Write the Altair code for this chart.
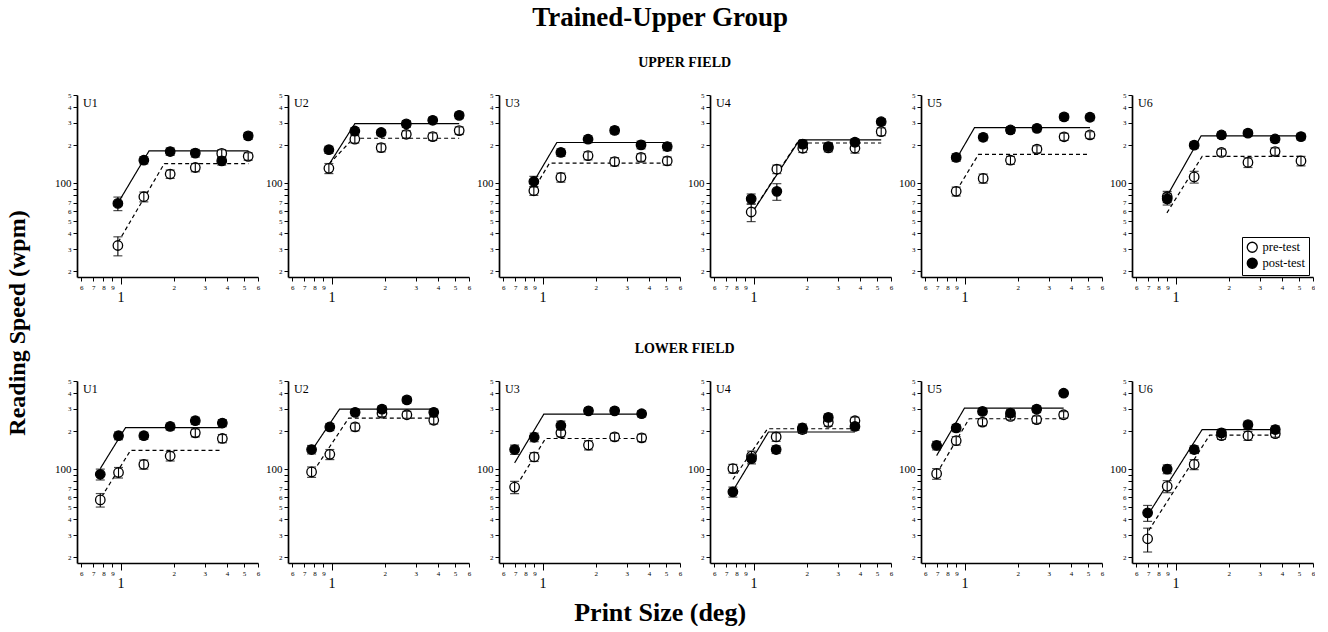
import altair as alt
import pandas as pd

FONT = "Liberation Serif"
PANELS = ["U1", "U2", "U3", "U4", "U5", "U6"]
TESTS = ["pre-test", "post-test"]

# ---------------- UPPER FIELD ----------------
UPPER_X = [
    [0.966, 1.355, 1.91, 2.65, 3.74, 5.28],
    [0.966, 1.355, 1.91, 2.65, 3.74, 5.28],
    [0.893, 1.27, 1.81, 2.56, 3.61, 5.08],
    [0.97, 1.355, 1.90, 2.65, 3.75, 5.28],
    [0.897, 1.275, 1.82, 2.57, 3.66, 5.13],
    [0.897, 1.275, 1.82, 2.57, 3.66, 5.13],
]
UPPER_PRE = [
    [32, 78, 118, 133, 172, 163],
    [131, 223, 191, 244, 234, 261],
    [87, 111, 165, 148, 160, 150],
    [59, 129, 189, 190, 189, 256],
    [86, 109, 152, 186, 233, 241],
    [78, 112, 175, 146, 178, 150],
]
UPPER_PRE_ERR = [
    [5.5, 7, 9, 10, 12, 11],
    [12, 15, 14, 16, 16, 18],
    [7, 9, 12, 11, 11, 11],
    [9.5, 10, 14, 13, 16, 18],
    [7, 9, 11, 12, 15, 15],
    [8, 12, 11, 13, 12, 13],
]
UPPER_POST = [
    [69, 152, 178, 173, 150, 237],
    [184, 259, 252, 295, 315, 345],
    [103, 175, 223, 262, 201, 195],
    [75, 86, 204, 195, 211, 307],
    [160, 231, 264, 272, 335, 333],
    [75, 200, 241, 249, 224, 234],
]
UPPER_POST_ERR = [
    [8.5, 10, 12, 12, 11, 15],
    [12, 16, 14, 18, 18, 20],
    [10, 12, 14, 16, 14, 14],
    [7, 13, 14, 12, 14, 18],
    [11, 14, 16, 16, 20, 20],
    [8, 12, 14, 14, 14, 14],
]
# fit: [start x, start y, knee x, plateau y, end x]
UPPER_PRE_FIT = [
    [0.97, 34, 1.77, 143, 5.3],
    [0.97, 142, 1.33, 227, 5.28],
    [0.92, 96, 1.095, 144, 5.08],
    [1.0, 61, 1.76, 208, 5.28],
    [0.9, 87, 1.2, 169, 5.13],
    [0.894, 58, 1.415, 163, 5.13],
]
UPPER_POST_FIT = [
    [0.97, 70, 1.45, 180, 5.3],
    [0.966, 140, 1.355, 296, 5.28],
    [0.893, 103, 1.205, 210, 5.08],
    [0.98, 58, 1.82, 220, 5.28],
    [0.9, 156, 1.14, 276, 5.13],
    [0.886, 77, 1.396, 237, 5.13],
]

# ---------------- LOWER FIELD ----------------
LOWER_X = [
    [0.768, 0.974, 1.355, 1.91, 2.65, 3.77],
    [0.771, 0.978, 1.36, 1.93, 2.67, 3.79],
    [0.695, 0.897, 1.27, 1.82, 2.56, 3.64],
    [0.764, 0.974, 1.343, 1.89, 2.65, 3.75],
    [0.695, 0.897, 1.264, 1.82, 2.56, 3.64],
    [0.695, 0.897, 1.275, 1.82, 2.57, 3.67],
]
LOWER_PRE = [
    [57, 94, 109, 127, 194, 175],
    [95, 131, 216, 278, 270, 244],
    [72, 125, 194, 155, 180, 177],
    [101, 127, 180, 206, 235, 242],
    [92, 168, 236, 262, 247, 270],
    [28, 73, 109, 184, 184, 191],
]
LOWER_PRE_ERR = [
    [7, 9, 9, 11, 14, 13],
    [9, 12, 15, 17, 17, 16],
    [8, 10, 14, 13, 12, 12],
    [8, 12, 14, 14, 16, 16],
    [9, 13, 15, 16, 16, 16],
    [6, 8, 10, 12, 15, 12],
]
LOWER_POST = [
    [91, 184, 184, 218, 242, 232],
    [143, 216, 282, 299, 354, 282],
    [143, 179, 222, 290, 290, 275],
    [66, 121, 143, 212, 257, 218],
    [154, 212, 287, 278, 299, 400],
    [45, 100, 143, 194, 225, 206],
]
LOWER_POST_ERR = [
    [9, 13, 12, 14, 16, 15],
    [11, 14, 16, 18, 20, 17],
    [12, 14, 18, 16, 16, 16],
    [6, 11, 10, 16, 17, 15],
    [12, 14, 16, 17, 18, 20],
    [6.5, 8, 10, 13, 15, 14],
]
LOWER_PRE_FIT = [
    [0.78, 60, 1.14, 141, 3.75],
    [0.79, 96, 1.25, 254, 3.79],
    [0.75, 83, 1.04, 175, 3.64],
    [0.764, 83, 1.2, 209, 3.75],
    [0.695, 92, 1.062, 251, 3.64],
    [0.705, 32.6, 1.56, 186, 3.67],
]
LOWER_POST_FIT = [
    [0.768, 101, 1.067, 213, 3.77],
    [0.771, 140, 1.11, 299, 3.85],
    [0.695, 112, 1.017, 273, 3.64],
    [0.77, 68.5, 1.215, 197, 3.75],
    [0.695, 128, 1.0, 305, 3.64],
    [0.695, 43, 1.415, 206, 3.67],
]

X_TICKS = [0.6, 0.7, 0.8, 0.9, 1, 2, 3, 4, 5, 6]
Y_TICKS = [20, 30, 40, 50, 60, 70, 80, 90, 100, 200, 300, 400, 500]
X_DOMAIN = [0.567, 6]
Y_DOMAIN = [18, 500]
W, H = 181, 182

x_axis = alt.Axis(
    values=X_TICKS,
    labelExpr="datum.value < 1 ? format(datum.value * 10, '.0f') : format(datum.value, '.0f')",
    labelFontSize={"condition": {"test": "datum.value == 1", "value": 14}, "value": 7},
    labelPadding={"condition": {"test": "datum.value == 1", "value": 6}, "value": 2},
    tickSize={"condition": {"test": "datum.value == 1", "value": 7}, "value": 4},
    title=None, grid=False, domainColor="black", domainWidth=1.7,
    tickColor="black", tickWidth=1, labelColor="black", labelFont=FONT,
    labelFlush=False, labelOverlap=False, labelBound=False,
)
y_axis = alt.Axis(
    values=Y_TICKS,
    labelExpr="datum.value == 100 ? '100' : (datum.value == 80 || datum.value == 90) ? '' : "
              "(datum.value < 100 ? format(datum.value / 10, '.0f') : format(datum.value / 100, '.0f'))",
    labelFontSize={"condition": {"test": "datum.value == 100", "value": 11}, "value": 7},
    tickSize=4, title=None, grid=False, domainColor="black", domainWidth=1.7,
    tickColor="black", tickWidth=1, labelColor="black", labelFont=FONT,
    labelOverlap=False, labelBound=False, labelFlush=False,
)


def panel(name, xs, pre, pre_err, post, post_err, pre_fit, post_fit, legend=None):
    n = len(xs)
    ys = pre + post
    errs = pre_err + post_err
    pts = pd.DataFrame({
        "x": xs + xs,
        "y": ys,
        "lo": [v - e for v, e in zip(ys, errs)],
        "hi": [v + e for v, e in zip(ys, errs)],
        "test": [TESTS[0]] * n + [TESTS[1]] * n,
    })
    fits = pd.DataFrame({
        "x": [pre_fit[0], pre_fit[2], pre_fit[4], post_fit[0], post_fit[2], post_fit[4]],
        "y": [pre_fit[1], pre_fit[3], pre_fit[3], post_fit[1], post_fit[3], post_fit[3]],
        "test": [TESTS[0]] * 3 + [TESTS[1]] * 3,
    })
    xs_scale = alt.Scale(type="log", domain=X_DOMAIN, nice=False)
    ys_scale = alt.Scale(type="log", domain=Y_DOMAIN, nice=False)
    X = alt.X("x:Q", scale=xs_scale, axis=x_axis)
    Y = alt.Y("y:Q", scale=ys_scale, axis=y_axis)

    lines = alt.Chart(fits).mark_line(color="black", strokeWidth=1.2).encode(
        x=X, y=Y,
        strokeDash=alt.StrokeDash("test:N", scale=alt.Scale(domain=TESTS, range=[[4, 3], [1, 0]]), legend=None),
    )
    points = alt.Chart(pts).mark_circle(size=90, stroke="black", strokeWidth=1.3, opacity=1).encode(
        x=X, y=Y,
        fill=alt.Fill("test:N", scale=alt.Scale(domain=TESTS, range=["white", "black"]), legend=legend),
    )
    rules = alt.Chart(pts).mark_rule(color="black", strokeWidth=1.1).encode(
        x=alt.X("x:Q"), y=alt.Y("lo:Q"), y2="hi:Q"
    )
    cap_lo = alt.Chart(pts).mark_tick(orient="horizontal", size=9, thickness=1.2, color="black").encode(
        x=alt.X("x:Q"), y=alt.Y("lo:Q")
    )
    cap_hi = alt.Chart(pts).mark_tick(orient="horizontal", size=9, thickness=1.2, color="black").encode(
        x=alt.X("x:Q"), y=alt.Y("hi:Q")
    )
    label = alt.Chart(pd.DataFrame({"t": [name]})).mark_text(
        align="left", baseline="top", font=FONT, fontSize=12, color="black"
    ).encode(x=alt.value(6), y=alt.value(3), text="t:N")
    return alt.layer(lines, points, rules, cap_lo, cap_hi, label).properties(width=W, height=H)


legend_u6 = alt.Legend(
    title=None, orient="none", legendX=110, legendY=142, fillColor="white", strokeColor="black",
    padding=4, symbolType="circle", symbolSize=100, symbolStrokeColor="black", symbolStrokeWidth=1.3,
    labelFont=FONT, labelFontSize=12.5, labelColor="black", rowPadding=0,
)

up_panels = [
    panel(PANELS[i], UPPER_X[i], UPPER_PRE[i], UPPER_PRE_ERR[i], UPPER_POST[i], UPPER_POST_ERR[i],
          UPPER_PRE_FIT[i], UPPER_POST_FIT[i], legend=(legend_u6 if i == 5 else None))
    for i in range(6)
]
lo_panels = [
    panel(PANELS[i], LOWER_X[i], LOWER_PRE[i], LOWER_PRE_ERR[i], LOWER_POST[i], LOWER_POST_ERR[i],
          LOWER_PRE_FIT[i], LOWER_POST_FIT[i])
    for i in range(6)
]


def row(panels, title):
    return alt.hconcat(*panels, spacing=30, bounds="flush").properties(
        title=alt.TitleParams(title, font=FONT, fontSize=14, fontWeight="bold", anchor="middle",
                              color="black", offset=21)
    ).resolve_scale(fill="independent").resolve_legend(fill="independent")


grid = alt.vconcat(row(up_panels, "UPPER FIELD"), row(lo_panels, "LOWER FIELD"), spacing=38).properties(
    title=alt.TitleParams("Reading Speed (wpm)", orient="left", font=FONT, fontSize=24, fontWeight="bold",
                          anchor="middle", color="black", offset=25)
).resolve_scale(fill="independent").resolve_legend(fill="independent")

mid = alt.vconcat(grid).properties(
    title=alt.TitleParams("Print Size (deg)", orient="bottom", font=FONT, fontSize=26, fontWeight="bold",
                          anchor="middle", color="black", offset=10)
).resolve_scale(fill="independent").resolve_legend(fill="independent")

chart = alt.vconcat(mid).properties(
    title=alt.TitleParams("Trained-Upper Group", font=FONT, fontSize=27, fontWeight="bold",
                          anchor="middle", color="black", offset=24),
    padding={"left": 5, "top": 4, "right": 0, "bottom": 0},
    background="white",
).resolve_scale(fill="independent").resolve_legend(fill="independent").configure_view(
    stroke=None, strokeWidth=0
)

chart.save("out.html", embed_options={"renderer": "svg", "actions": False})
